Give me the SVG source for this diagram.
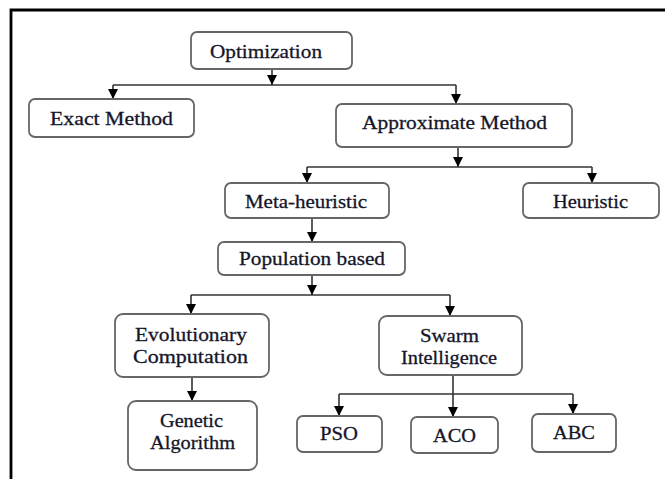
<svg xmlns="http://www.w3.org/2000/svg" width="665" height="479" viewBox="0 0 665 479">
<defs>
<marker id="arr" viewBox="0 0 10 10" refX="10" refY="5" markerWidth="10" markerHeight="10" markerUnits="userSpaceOnUse" orient="auto">
<path d="M0,0 L10,5 L0,10 Z" fill="#000"/>
</marker>
<style>
.box{fill:#fff;stroke:#666;stroke-width:1.8}
.t{font-family:"Liberation Serif","Times New Roman",serif;font-size:19.5px;fill:#15152a;stroke:#15152a;stroke-width:0.3;text-anchor:middle}
.c{fill:none;stroke:#333;stroke-width:1.6}
.frame{stroke:#000;stroke-width:2.8;fill:none}
</style>
</defs>
<rect width="665" height="479" fill="#fff"/>
<path class="frame" d="M11,479 L11,10 L665,10"/>
<g id="connectors">
<line class="c" x1="272" y1="69" x2="272" y2="85" marker-end="url(#arr)"/>
<line class="c" x1="113" y1="85" x2="456" y2="85"/>
<line class="c" x1="113" y1="85" x2="113" y2="99" marker-end="url(#arr)"/>
<line class="c" x1="456" y1="85" x2="456" y2="104" marker-end="url(#arr)"/>
<line class="c" x1="458" y1="147" x2="458" y2="167" marker-end="url(#arr)"/>
<line class="c" x1="307" y1="167" x2="592" y2="167"/>
<line class="c" x1="307" y1="167" x2="307" y2="183" marker-end="url(#arr)"/>
<line class="c" x1="592" y1="167" x2="592" y2="183" marker-end="url(#arr)"/>
<line class="c" x1="312" y1="218" x2="312" y2="242" marker-end="url(#arr)"/>
<line class="c" x1="312" y1="275" x2="312" y2="295" marker-end="url(#arr)"/>
<line class="c" x1="191" y1="295" x2="450" y2="295"/>
<line class="c" x1="191" y1="295" x2="191" y2="314" marker-end="url(#arr)"/>
<line class="c" x1="450" y1="295" x2="450" y2="316" marker-end="url(#arr)"/>
<line class="c" x1="192" y1="377" x2="192" y2="401" marker-end="url(#arr)"/>
<line class="c" x1="453" y1="375" x2="453" y2="394"/>
<line class="c" x1="339" y1="394" x2="573" y2="394"/>
<line class="c" x1="339" y1="394" x2="339" y2="416" marker-end="url(#arr)"/>
<line class="c" x1="453" y1="394" x2="453" y2="417" marker-end="url(#arr)"/>
<line class="c" x1="573" y1="394" x2="573" y2="414" marker-end="url(#arr)"/>
</g>
<g id="optimization">
<rect class="box" x="191" y="32" width="161" height="37" rx="6"/>
<text class="t" x="266" y="58" textLength="112" lengthAdjust="spacingAndGlyphs">Optimization</text>
</g>
<g id="exact">
<rect class="box" x="29" y="99" width="165" height="38" rx="6"/>
<text class="t" x="111.5" y="125" textLength="123" lengthAdjust="spacingAndGlyphs">Exact Method</text>
</g>
<g id="approximate">
<rect class="box" x="336" y="104" width="236" height="43" rx="6"/>
<text class="t" x="454.5" y="129" textLength="185" lengthAdjust="spacingAndGlyphs">Approximate Method</text>
</g>
<g id="metaheuristic">
<rect class="box" x="225" y="183" width="164" height="35" rx="6"/>
<text class="t" x="306" y="208" textLength="122" lengthAdjust="spacingAndGlyphs">Meta-heuristic</text>
</g>
<g id="heuristic">
<rect class="box" x="523" y="183" width="136" height="35" rx="6"/>
<text class="t" x="590.5" y="208" textLength="75" lengthAdjust="spacingAndGlyphs">Heuristic</text>
</g>
<g id="population">
<rect class="box" x="218" y="242" width="187" height="33" rx="6"/>
<text class="t" x="312" y="265" textLength="146" lengthAdjust="spacingAndGlyphs">Population based</text>
</g>
<g id="evolutionary">
<rect class="box" x="115" y="314" width="154" height="63" rx="8"/>
<text class="t" x="191" y="341" textLength="112" lengthAdjust="spacingAndGlyphs">Evolutionary</text>
<text class="t" x="190.5" y="363" textLength="115" lengthAdjust="spacingAndGlyphs">Computation</text>
</g>
<g id="genetic">
<rect class="box" x="128" y="401" width="129" height="69" rx="8"/>
<text class="t" x="191.5" y="427" textLength="63" lengthAdjust="spacingAndGlyphs">Genetic</text>
<text class="t" x="192.5" y="449" textLength="85" lengthAdjust="spacingAndGlyphs">Algorithm</text>
</g>
<g id="swarm">
<rect class="box" x="379" y="316" width="143" height="59" rx="8"/>
<text class="t" x="449.5" y="342" textLength="59" lengthAdjust="spacingAndGlyphs">Swarm</text>
<text class="t" x="449" y="364" textLength="96" lengthAdjust="spacingAndGlyphs">Intelligence</text>
</g>
<g id="pso">
<rect class="box" x="297" y="416" width="85" height="36" rx="6"/>
<text class="t" x="339" y="440" textLength="38" lengthAdjust="spacingAndGlyphs">PSO</text>
</g>
<g id="aco">
<rect class="box" x="411" y="417" width="87" height="36" rx="6"/>
<text class="t" x="454.5" y="442" textLength="43" lengthAdjust="spacingAndGlyphs">ACO</text>
</g>
<g id="abc">
<rect class="box" x="532" y="414" width="84" height="38" rx="6"/>
<text class="t" x="574" y="439" textLength="42" lengthAdjust="spacingAndGlyphs">ABC</text>
</g>
</svg>
